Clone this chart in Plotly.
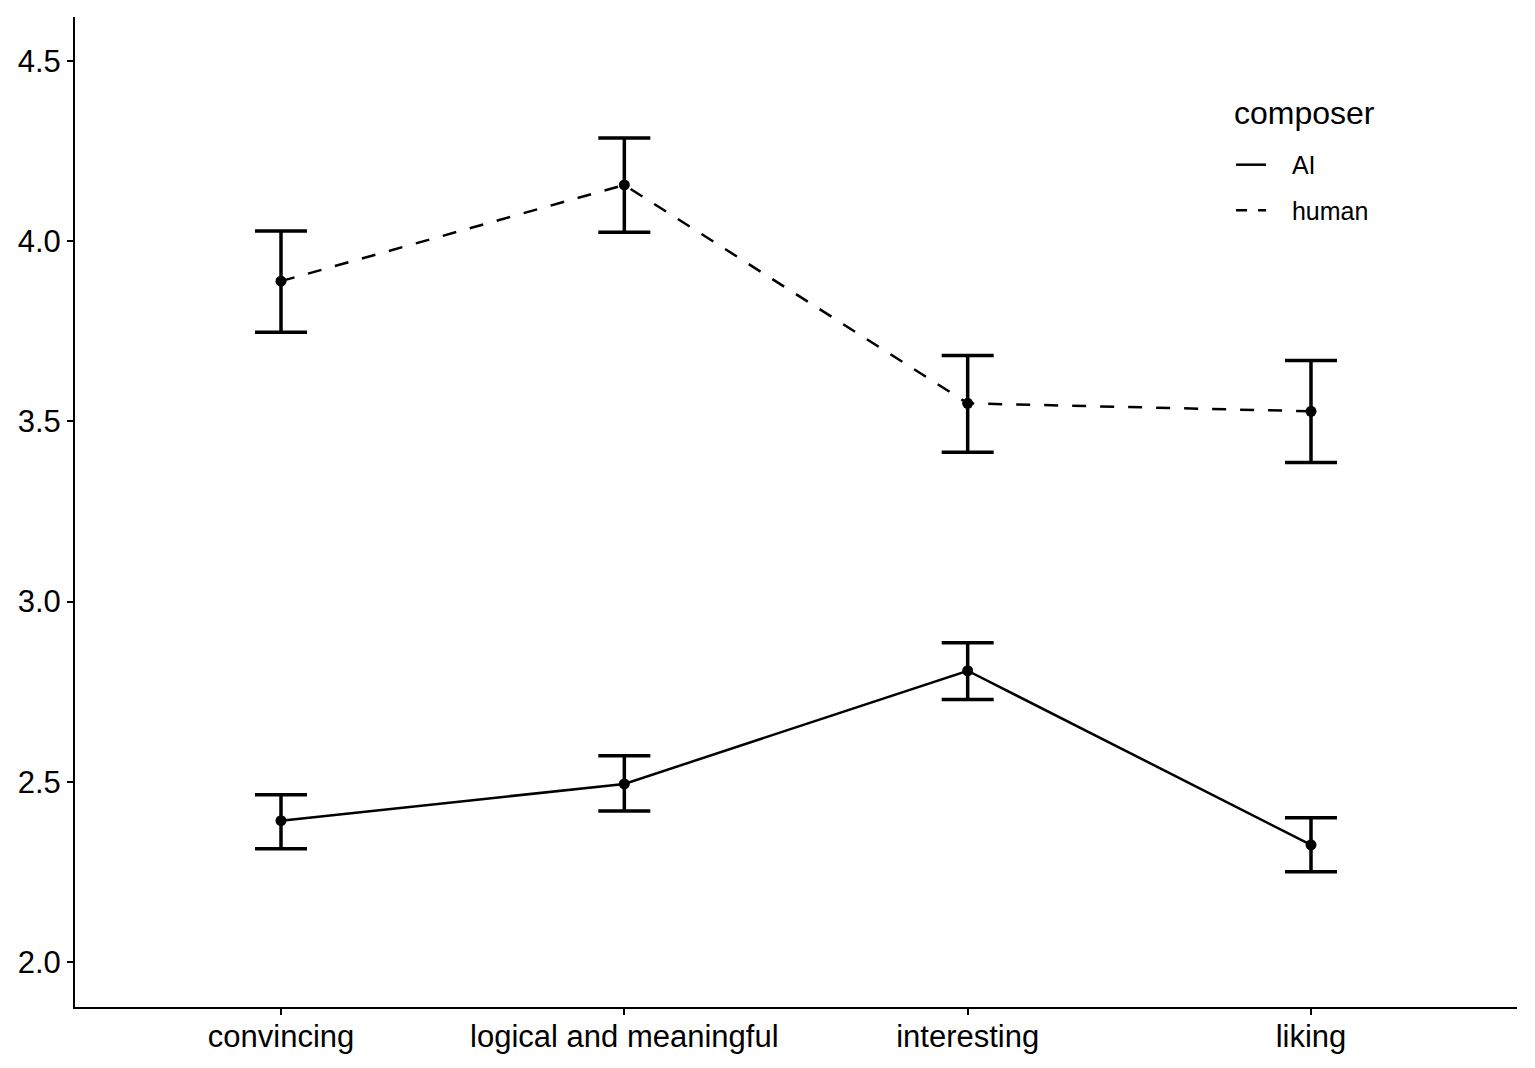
import plotly.graph_objects as go

categories = ["convincing", "logical and meaningful", "interesting", "liking"]
ai_mean = [2.392, 2.494, 2.808, 2.325]
ai_upper = [2.464, 2.572, 2.886, 2.400]
ai_lower = [2.314, 2.419, 2.728, 2.250]
human_mean = [3.889, 4.156, 3.550, 3.528]
human_upper = [4.028, 4.286, 3.683, 3.669]
human_lower = [3.747, 4.025, 3.414, 3.386]

x_idx = list(range(len(categories)))
DASH = "14px,14px"
PAD = "\u00a0\u00a0\u00a0"

def trace(name, mean, upper, lower, dash):
    return go.Scatter(
        x=x_idx, y=mean, name=name, mode="lines+markers", showlegend=False,
        line=dict(color="black", width=2.5, dash=dash),
        marker=dict(color="black", size=11),
        error_y=dict(type="data", symmetric=False,
                     array=[u - m for u, m in zip(upper, mean)],
                     arrayminus=[m - l for m, l in zip(mean, lower)],
                     color="black", thickness=3.5, width=26),
    )

fig = go.Figure()
fig.add_trace(trace("AI", ai_mean, ai_upper, ai_lower, "solid"))
fig.add_trace(trace("human", human_mean, human_upper, human_lower, DASH))
# legend keys (lines only, like the reference)
fig.add_trace(go.Scatter(x=[None], y=[None], mode="lines", name=PAD + "AI",
                         legendgroup="a", line=dict(color="black", width=2.5)))
fig.add_trace(go.Scatter(x=[None], y=[None], mode="lines", name=PAD + "human",
                         legendgroup="h", line=dict(color="black", width=2.5, dash="11px,11px")))

fig.add_annotation(text="composer", xref="paper", yref="paper",
                   x=0.8024, y=0.903, xanchor="left", yanchor="middle",
                   showarrow=False, font=dict(size=32))

fig.update_layout(
    width=1527, height=1060,
    plot_bgcolor="white", paper_bgcolor="white",
    margin=dict(l=67, r=18, t=9, b=61),
    font=dict(family="Liberation Sans, Arial", color="black", size=31),
    legend=dict(
        font=dict(size=25),
        x=0.8017, y=0.8738, xanchor="left", yanchor="top",
        bgcolor="rgba(0,0,0,0)", tracegroupgap=10,
    ),
    showlegend=True,
)
fig.update_xaxes(
    range=[-0.6, 3.6], tickvals=x_idx, ticktext=categories,
    showline=True, linecolor="black", linewidth=2,
    ticks="outside", ticklen=6, tickwidth=2, tickcolor="black",
    showgrid=False, zeroline=False, tickfont=dict(size=31),
    ticklabelstandoff=-5,
)
fig.update_yaxes(
    range=[1.875, 4.622], tickvals=[2.0, 2.5, 3.0, 3.5, 4.0, 4.5],
    ticktext=["2.0", "2.5", "3.0", "3.5", "4.0", "4.5"],
    showline=True, linecolor="black", linewidth=2,
    ticks="outside", ticklen=6, tickwidth=2, tickcolor="black",
    showgrid=False, zeroline=False, tickfont=dict(size=31),
)

fig.write_html("out.html")
